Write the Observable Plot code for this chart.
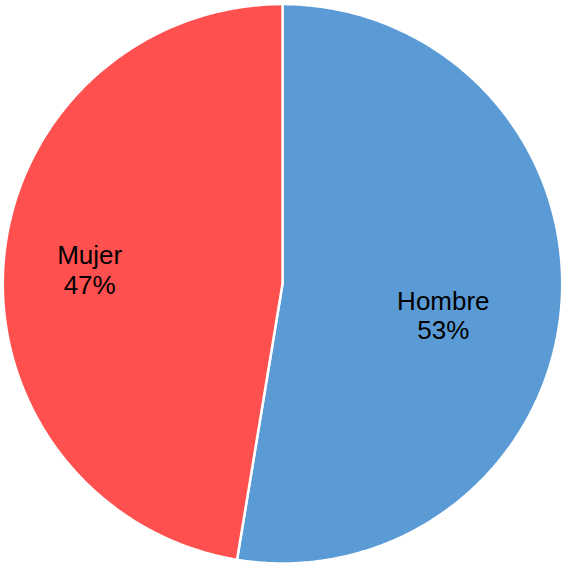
<!DOCTYPE html>
<html>
<head>
<meta charset="utf-8">
<script src="https://cdn.jsdelivr.net/npm/d3@7"></script>
<script src="https://cdn.jsdelivr.net/npm/@observablehq/plot@0.6"></script>
<style>
  html, body { margin: 0; padding: 0; background: #ffffff; }
</style>
</head>
<body>
<div id="chart"></div>
<script>
// Data
const categories = ["Hombre", "Mujer"];
const values = [52.6, 47.4];
const labels = ["53%", "47%"];
const colors = ["#5B9BD5", "#FF5050"];

const rows = categories.map((c, i) => ({name: c, value: values[i], label: labels[i]}));

// Slice angles from d3.pie (clockwise from 12 o'clock, data order)
const arcs = d3.pie().sort(null).value(d => d.value).startAngle(0).endAngle(2 * Math.PI)(rows);

// Build polygon outlines in unit-circle data coordinates
const slicePts = [];
for (const a of arcs) {
  slicePts.push({name: a.data.name, x: 0, y: 0});
  const n = Math.max(2, Math.ceil((a.endAngle - a.startAngle) / (Math.PI / 360)));
  for (let k = 0; k <= n; k++) {
    const t = a.startAngle + (a.endAngle - a.startAngle) * k / n;
    slicePts.push({name: a.data.name, x: Math.sin(t), y: Math.cos(t)});
  }
  slicePts.push({name: a.data.name, x: 0, y: 0});
}

// Label anchors along each slice's mid-angle
const labelPts = arcs.map(a => {
  const m = (a.startAngle + a.endAngle) / 2;
  const f = 0.62;
  return {name: a.data.name, text: a.data.name + "\n" + a.data.label, x: f * Math.sin(m), y: f * Math.cos(m)};
});

const chart = Plot.plot({
  width: 564,
  height: 566,
  marginLeft: 2.3,
  marginRight: 2.3,
  marginTop: 3.6,
  marginBottom: 3,
  x: {domain: [-1, 1], axis: null},
  y: {domain: [-1, 1], axis: null},
  color: {domain: categories, range: colors},
  style: {background: "#ffffff", fontFamily: "'Liberation Sans', Arial, sans-serif"},
  marks: [
    Plot.line(slicePts, {x: "x", y: "y", z: "name", fill: "name", stroke: "#ffffff", strokeWidth: 2.5, strokeLinejoin: "round", curve: "linear"}),
    Plot.text(labelPts.filter(d => d.name === "Hombre"), {x: "x", y: "y", text: "text", fontSize: 26, lineHeight: 1.15, fill: "#000000", dx: -12, dy: 17}),
    Plot.text(labelPts.filter(d => d.name === "Mujer"), {x: "x", y: "y", text: "text", fontSize: 26, lineHeight: 1.15, fill: "#000000", dx: -20, dy: 0})
  ]
});
document.getElementById("chart").appendChild(chart);
</script>
</body>
</html>
